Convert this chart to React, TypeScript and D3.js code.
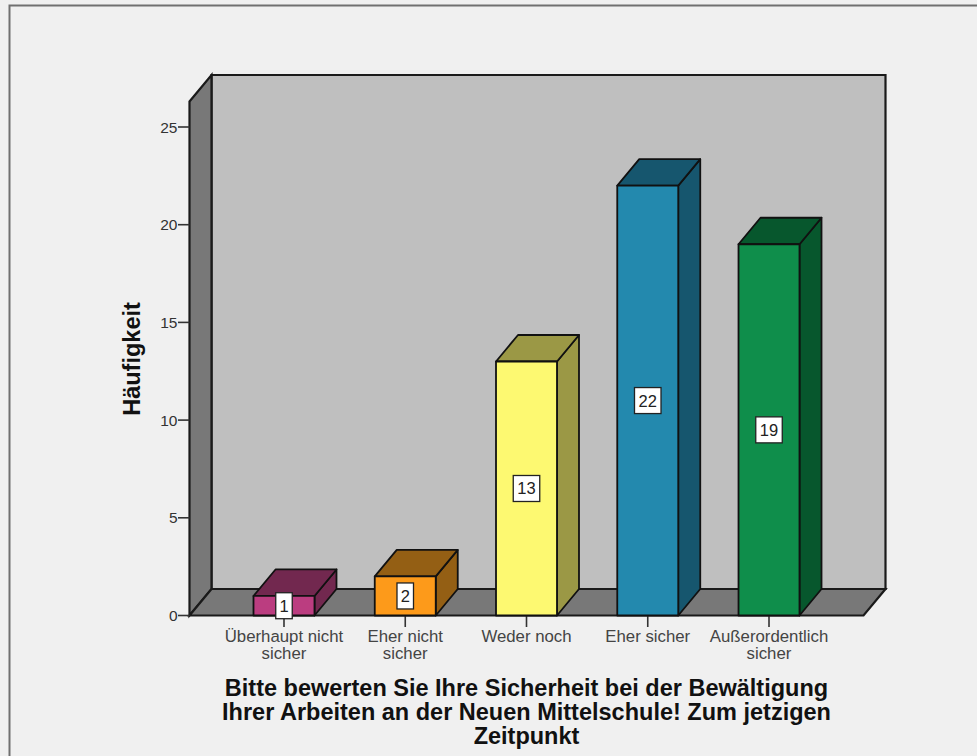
import React from "react";
import * as d3 from "d3";

const categories = [
  ["Überhaupt nicht", "sicher"],
  ["Eher nicht", "sicher"],
  ["Weder noch"],
  ["Eher sicher"],
  ["Außerordentlich", "sicher"],
];
const counts = [1, 2, 13, 22, 19];
const frontColors = ["#bb3d80", "#fd9a1a", "#fdf971", "#2389ae", "#0f8e4b"];
const sideColors = ["#72284f", "#945f14", "#9b9845", "#16566e", "#07572d"];
const yTicks = [0, 5, 10, 15, 20, 25];
const titleLines = [
  "Bitte bewerten Sie Ihre Sicherheit bei der Bewältigung",
  "Ihrer Arbeiten an der Neuen Mittelschule! Zum jetzigen",
  "Zeitpunkt",
];
const yAxisTitle = "Häufigkeit";

const FONT = "'Liberation Sans', Arial, sans-serif";
const DEPTH_X = 22;
const DEPTH_Y = 26.5;
const LEFT = 189.5;
const RIGHT = 863.5;
const BASE = 615.5;
const TOP = 101.5;

const y = d3.scaleLinear().domain([0, 25]).range([BASE, 127]);
const x = d3
  .scaleBand<number>()
  .domain(categories.map((_, i) => i))
  .range([253.5, 799.5])
  .paddingInner(0.497)
  .paddingOuter(0);

const poly = (pts: [number, number][]) => {
  const path = d3.path();
  pts.forEach(([px, py], i) => (i ? path.lineTo(px, py) : path.moveTo(px, py)));
  path.closePath();
  return path.toString();
};

export default function App() {
  const bw = x.bandwidth();
  return (
    <svg
      width={977}
      height={756}
      style={{ position: "absolute", left: 0, top: 0, background: "#f0f0f0" }}
      fontFamily={FONT}
    >
      {/* Outer chart frame */}
      <path d="M9.5 756V5.5H977" fill="none" stroke="#707070" strokeWidth={2} />

      {/* Back wall, side wall and floor */}
      <g stroke="#1a1a1a" strokeWidth={2.2} strokeLinejoin="miter">
        <path
          d={poly([
            [LEFT + DEPTH_X, TOP - DEPTH_Y],
            [RIGHT + DEPTH_X, TOP - DEPTH_Y],
            [RIGHT + DEPTH_X, BASE - DEPTH_Y],
            [LEFT + DEPTH_X, BASE - DEPTH_Y],
          ])}
          fill="#bfbfbf"
        />
        <path
          d={poly([
            [LEFT, TOP],
            [LEFT + DEPTH_X, TOP - DEPTH_Y],
            [LEFT + DEPTH_X, BASE - DEPTH_Y],
            [LEFT, BASE],
          ])}
          fill="#787878"
        />
        <path
          d={poly([
            [LEFT, BASE],
            [LEFT + DEPTH_X, BASE - DEPTH_Y],
            [RIGHT + DEPTH_X, BASE - DEPTH_Y],
            [RIGHT, BASE],
          ])}
          fill="#787878"
        />
      </g>

      {/* Y axis ticks and labels */}
      {yTicks.map((t) => (
        <g key={t}>
          <line x1={178} x2={LEFT} y1={y(t)} y2={y(t)} stroke="#333" strokeWidth={1.6} />
          <text x={177.5} y={y(t) + 5.5} textAnchor="end" fontSize={15.5} fill="#333">
            {t}
          </text>
        </g>
      ))}
      <text
        transform="translate(140,359) rotate(-90)"
        textAnchor="middle"
        fontSize={23.5}
        fontWeight="bold"
        fill="#111"
      >
        {yAxisTitle}
      </text>

      {/* X axis ticks and category labels */}
      {categories.map((lines, i) => {
        const cx = x(i)! + bw / 2;
        return (
          <g key={i}>
            <line x1={cx} x2={cx} y1={BASE} y2={627} stroke="#333" strokeWidth={1.6} />
            <text textAnchor="middle" fontSize={16.8} fill="#444">
              {lines.map((l, k) => (
                <tspan key={k} x={cx} y={641.5 + k * 17.5}>
                  {l}
                </tspan>
              ))}
            </text>
          </g>
        );
      })}

      {/* Extruded bars */}
      {counts.map((v, i) => {
        const x0 = x(i)!;
        const x1 = x0 + bw;
        const top = y(v);
        return (
          <g key={i} stroke="#111" strokeWidth={1.8} strokeLinejoin="round">
            <path
              d={poly([
                [x1, BASE],
                [x1 + DEPTH_X, BASE - DEPTH_Y],
                [x1 + DEPTH_X, top - DEPTH_Y],
                [x1, top],
              ])}
              fill={sideColors[i]}
            />
            <path
              d={poly([
                [x0, top],
                [x0 + DEPTH_X, top - DEPTH_Y],
                [x1 + DEPTH_X, top - DEPTH_Y],
                [x1, top],
              ])}
              fill={sideColors[i]}
            />
            <rect x={x0} y={top} width={bw} height={BASE - top} fill={frontColors[i]} />
          </g>
        );
      })}

      {/* Value boxes at the middle of each bar */}
      {counts.map((v, i) => {
        const cx = x(i)! + bw / 2;
        const cy = y(v / 2);
        const w = String(v).length > 1 ? 26.5 : 16.5;
        return (
          <g key={i}>
            <rect
              x={cx - w / 2}
              y={cy - 13}
              width={w}
              height={26}
              fill="#fff"
              stroke="#222"
              strokeWidth={1.3}
            />
            <text x={cx} y={cy + 6} textAnchor="middle" fontSize={16.5} fill="#222">
              {v}
            </text>
          </g>
        );
      })}

      {/* Chart caption below the axis */}
      <text textAnchor="middle" fontSize={23.5} fontWeight="bold" fill="#111">
        {titleLines.map((l, k) => (
          <tspan key={k} x={526.5} y={696 + k * 24}>
            {l}
          </tspan>
        ))}
      </text>
    </svg>
  );
}
